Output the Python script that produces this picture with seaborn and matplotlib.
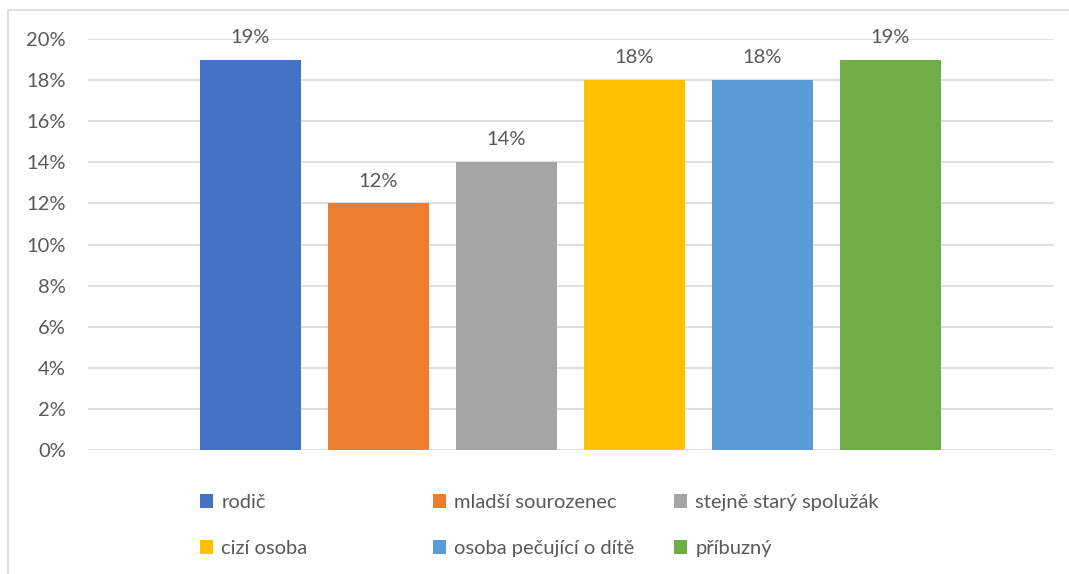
import matplotlib
matplotlib.use("Agg")
import matplotlib.pyplot as plt
import seaborn as sns
import pandas as pd
from matplotlib.patches import Patch, Rectangle
from matplotlib.ticker import PercentFormatter

categories = ["rodič", "mladší sourozenec", "stejně starý spolužák",
              "cizí osoba", "osoba pečující o dítě", "příbuzný"]
values = [0.19, 0.12, 0.14, 0.18, 0.18, 0.19]
colors = ["#4472C4", "#ED7D31", "#A5A5A5", "#FFC000", "#5B9BD5", "#70AD47"]
yticks = [0, 0.02, 0.04, 0.06, 0.08, 0.10, 0.12, 0.14, 0.16, 0.18, 0.20]

sns.set_theme(style="white")
plt.rcParams['font.family'] = ['Lato', 'DejaVu Sans']
TXT = "#595959"
FS = 14.5

W, H = 1069, 574
fig = plt.figure(figsize=(W / 100, H / 100), dpi=100)
ax = fig.add_axes([88 / W, 1 - 450 / H, (1053 - 88) / W, (450 - 39) / H])

df = pd.DataFrame({"cat": categories, "val": values})
sns.barplot(data=df, x="cat", y="val", hue="cat", palette=colors,
            width=101 / 128, legend=False, ax=ax, saturation=1, linewidth=0)

ax.set_xlim((88 - 250) / 128, 5 + (1053 - 890) / 128)
ax.set_ylim(0, 0.20)
ax.set_yticks(yticks)
ax.yaxis.set_major_formatter(PercentFormatter(1.0, decimals=0))
ax.set_xticks([])
ax.set_xlabel("")
ax.set_ylabel("")
ax.tick_params(axis="y", length=0, pad=16, labelsize=FS, labelcolor=TXT)
ax.grid(axis="y", color="#d9d9d9", linewidth=1.2)
ax.set_axisbelow(True)
for s in ax.spines.values():
    s.set_visible(False)

for c in ax.containers:
    ax.bar_label(c, labels=[f"{v * 100:.0f}%" for v in c.datavalues],
                 padding=10, fontsize=FS, color=TXT)

# legend: three columns, two rows
col_x = [200, 433, 674]
for i, x in enumerate(col_x):
    idx = [i, i + 3]
    handles = [Patch(facecolor=colors[j], edgecolor="none") for j in idx]
    labels = [categories[j] for j in idx]
    fig.legend(handles, labels, loc="upper left",
               bbox_to_anchor=(x / W, 1 - 494 / H), frameon=False,
               fontsize=FS, labelcolor=TXT, handlelength=0.65,
               handleheight=0.65, handletextpad=0.4, labelspacing=1.45,
               borderpad=0, borderaxespad=0)

fig.patches.append(Rectangle((8 / W, -0.1), 1.2, 1 - 10 / H + 0.1,
                             transform=fig.transFigure, fill=False,
                             edgecolor="#d9d9d9", linewidth=1.2))

fig.savefig("out.png", dpi=100)
